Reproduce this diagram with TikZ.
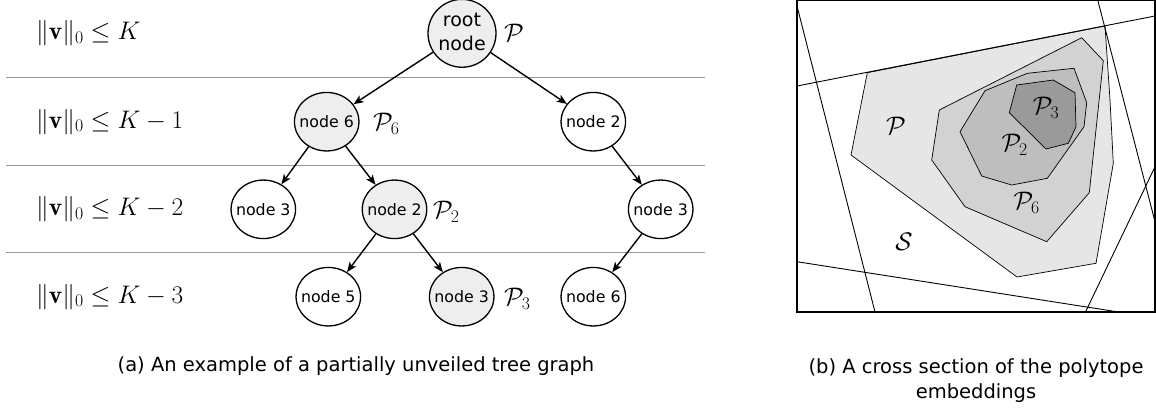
\RequirePackage{fix-cm}
\documentclass[tikz,border=0pt]{standalone}
\usepackage{fontspec}
\newfontfamily\dejavu{DejaVu Sans}
\usetikzlibrary{shapes.geometric,arrows.meta}
\definecolor{nodefill}{HTML}{EEEEEE}
\definecolor{rulegray}{HTML}{999999}
\definecolor{polyP}{HTML}{E6E6E6}
\definecolor{polyPsix}{HTML}{D2D2D2}
\definecolor{polyPtwo}{HTML}{BEBEBE}
\definecolor{polyPthree}{HTML}{9A9A9A}
% node labels are set in a zero-width box so the ellipse keeps its fixed size
\newcommand\tlabel[1]{\makebox[0pt][c]{#1}}
\tikzset{
  treenode/.style={ellipse,draw,line width=1.3pt,minimum width=64.5pt,minimum height=58.5pt,
    inner sep=0pt,font=\dejavu\fontsize{15.8}{17}\selectfont,fill=white},
  visited/.style={treenode,fill=nodefill},
  treearrow/.style={line width=1.4pt,-{Stealth[length=10pt,width=8pt,inset=2.5pt]}},
  levelrule/.style={rulegray,line width=1pt},
  levellabel/.style={anchor=west,inner sep=0pt,font=\fontsize{25.4}{30}\selectfont},
  setlabel/.style={inner sep=0pt,font=\fontsize{25.4}{30}\selectfont},
  cut/.style={line width=0.9pt},
  polyline/.style={line width=0.7pt},
  caption/.style={font=\dejavu\fontsize{19.5}{25}\selectfont,align=center},
}
\begin{document}
\begin{tikzpicture}[x=1pt,y=-1pt]
\useasboundingbox (0,0) rectangle (1156,408);

% ---------- (a) tree ----------
\draw[levelrule] (6,77.7) -- (705,77.7);
\draw[levelrule] (6,165) -- (705,165);
\draw[levelrule] (6,252.3) -- (705,252.3);

\node[levellabel] (l0) at (36,33.3) {$\|\mathbf{v}\|_0 \le K$};
\node[levellabel] (l1) at (36,121.7) {$\|\mathbf{v}\|_0 \le K-1$};
\node[levellabel] (l2) at (36,209.3) {$\|\mathbf{v}\|_0 \le K-2$};
\node[levellabel] (l3) at (36,296.7) {$\|\mathbf{v}\|_0 \le K-3$};

\node[visited,minimum width=68pt,font=\dejavu\fontsize{19}{24}\selectfont] (root) at (462,33.3)
  {\tlabel{\begin{tabular}{@{}c@{}}root\\node\end{tabular}}};
\node[visited] (n6) at (326.7,121.7) {\tlabel{node 6}};
\node[treenode] (n2) at (593.3,121.7) {\tlabel{node 2}};
\node[treenode] (n3a) at (263.3,209.3) {\tlabel{node 3}};
\node[visited] (n2b) at (394.5,209.3) {\tlabel{node 2}};
\node[treenode] (n3b) at (660.7,209.3) {\tlabel{node 3}};
\node[treenode] (n5) at (328.3,296.7) {\tlabel{node 5}};
\node[visited] (n3c) at (461.7,296.7) {\tlabel{node 3}};
\node[treenode] (n6b) at (593.3,296.7) {\tlabel{node 6}};

\node[setlabel,anchor=west] (lP) at (504,33) {$\mathcal{P}$};
\node[setlabel,anchor=west] (lP6) at (373,124) {$\mathcal{P}_6$};
\node[setlabel,anchor=west] (lP2) at (433,212) {$\mathcal{P}_2$};
\node[setlabel,anchor=west] (lP3) at (504,299) {$\mathcal{P}_3$};

\draw[treearrow] (root) -- (n6);
\draw[treearrow] (root) -- (n2);
\draw[treearrow] (n6) -- (n3a);
\draw[treearrow] (n6) -- (n2b);
\draw[treearrow] (n2) -- (n3b);
\draw[treearrow] (n2b) -- (n5);
\draw[treearrow] (n2b) -- (n3c);
\draw[treearrow] (n3b) -- (n6b);

\node[caption] (capa) at (356,366) {(a) An example of a partially unveiled tree graph};

% ---------- (b) nested polytopes ----------
\begin{scope}
\clip (797,0) rectangle (1155.6,312);
\filldraw[polyline,fill=polyP] (867.3,72.7) -- (1105,26) -- (1110,100) -- (1113.3,163.3)
  -- (1096,263.3) -- (1017,277) -- (851,155) -- cycle;
\filldraw[polyline,fill=polyPsix] (939.3,110) -- (1081.7,37.7) -- (1103.3,60.7)
  -- (1089.3,192.7) -- (1046.7,241.7) -- (965,206.7) -- (931.7,160) -- cycle;
\filldraw[polyline,fill=polyPtwo] (985,90.7) -- (1027.3,73.3) -- (1074,68.3)
  -- (1086.7,102.7) -- (1084,126.7) -- (1047.3,178.3) -- (1011.7,185)
  -- (981.7,176) -- (960,131.7) -- cycle;
\filldraw[polyline,fill=polyPthree] (1016.7,85) -- (1053.3,80) -- (1075,92.7)
  -- (1076,126.7) -- (1068.3,143.3) -- (1046,149) -- (1009.3,112.7) -- cycle;

\draw[cut] (797,6) -- (875,312);
\draw[cut] (797,86) -- (1155,16);
\draw[cut] (1097.7,0) -- (1155,221.7);
\draw[cut] (1155,166.7) -- (1085,313);
\draw[cut] (797,261.7) -- (1125,313);
\end{scope}
\draw[line width=1.3pt] (797,0.7) rectangle (1155,312);

\node[setlabel] (rP) at (896,126) {$\mathcal{P}$};
\node[setlabel] (rP3) at (1046,108) {$\mathcal{P}_3$};
\node[setlabel] (rP2) at (1014.7,145) {$\mathcal{P}_2$};
\node[setlabel] (rP6) at (1026.7,203) {$\mathcal{P}_6$};
\node[setlabel] (rS) at (904,242) {$\mathcal{S}$};

\node[caption] (capb) at (976,380.5) {(b) A cross section of the polytope\\embeddings};
\end{tikzpicture}
\end{document}
